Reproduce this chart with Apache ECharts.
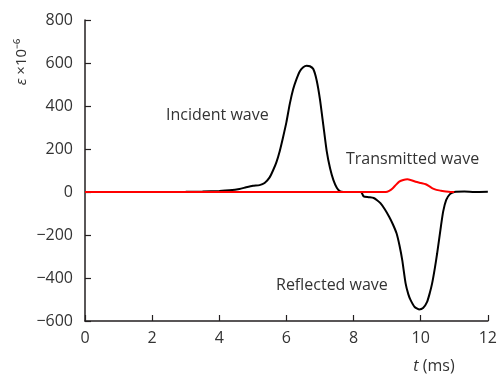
<!DOCTYPE html>
<html>
<head>
<meta charset="utf-8">
<script src="https://cdn.jsdelivr.net/npm/echarts@6/dist/echarts.min.js"></script>
<style>
  html, body { margin: 0; padding: 0; background: #fff; }
  #divChart { width: 500px; height: 376px; }
</style>
</head>
<body>
<div id="divChart"></div>
<script>
// black curve: incident + reflected wave (t in ms, strain x1e-6)
var blackTime = [0, 1, 2, 3, 3.5, 4, 4.3, 4.6, 4.8, 5.0, 5.2, 5.35, 5.5, 5.6, 5.7, 5.8, 5.9, 6.0, 6.1, 6.2, 6.3, 6.4, 6.5, 6.6, 6.7, 6.8, 6.9, 7.0, 7.1, 7.2, 7.3, 7.4, 7.5, 7.6, 7.7,
    8.0, 8.22, 8.3, 8.45, 8.6, 8.7, 8.8, 8.93, 9.06, 9.17, 9.28, 9.37, 9.45, 9.55, 9.63, 9.7, 9.82, 9.95, 10.07, 10.19, 10.27, 10.34, 10.42, 10.49, 10.6, 10.67, 10.76, 10.87, 11.0, 11.3, 11.6, 12];
var blackStrain = [0, 0, 0, 1, 2, 5, 8, 14, 22, 29, 32, 42, 68, 100, 138, 190, 255, 325, 410, 478, 525, 562, 580, 587, 585, 572, 520, 430, 310, 190, 110, 55, 20, 3, 0,
    0, 0, -20, -24, -28, -38, -52, -80, -115, -150, -192, -250, -317, -425, -475, -503, -535, -546, -540, -511, -470, -425, -355, -285, -162, -90, -37, -10, 0, 2, 0, 1];
// red curve: transmitted wave
var redTime = [0, 2, 4, 6, 8, 8.96, 9.06, 9.16, 9.26, 9.36, 9.48, 9.6, 9.72, 9.85, 10.0, 10.15, 10.25, 10.35, 10.47, 10.6, 10.75, 10.89, 11.0];
var redStrain = [0, 0, 0, 0, 0, 0, 5, 16, 33, 48, 56, 59, 55, 48, 42, 36, 27, 17, 10, 6, 2, 0, 0];

var xTicks = [0, 2, 4, 6, 8, 10, 12];
var yTicks = [-600, -400, -200, 0, 200, 400, 600, 800];

var myChart;

function pairs(t, v) {
    var out = [];
    for (var i = 0; i < t.length; i++) {
        out.push([t[i], v[i]]);
    }
    return out;
}

function initChart() {
    myChart = echarts.init(document.getElementById('divChart'));
    var font = 'Open Sans';
    var option = {
        animation: false,
        textStyle: { fontFamily: font },
        grid: { left: 85, top: 20, right: 11, bottom: 55 },
        xAxis: {
            type: 'value',
            min: xTicks[0],
            max: xTicks[xTicks.length - 1],
            interval: 2,
            axisLine: { onZero: false, lineStyle: { color: '#231f20', width: 1.5 } },
            axisTick: { inside: true, length: 6, lineStyle: { color: '#231f20', width: 1.2 } },
            axisLabel: { color: '#333', fontSize: 16, margin: 9, fontFamily: font },
            splitLine: { show: false }
        },
        yAxis: {
            type: 'value',
            min: yTicks[0],
            max: yTicks[yTicks.length - 1],
            interval: 200,
            axisLine: { show: true, lineStyle: { color: '#231f20', width: 1.5 } },
            axisTick: { show: true, inside: true, length: 6, lineStyle: { color: '#231f20', width: 1.2 } },
            axisLabel: {
                color: '#333', fontSize: 16, margin: 12, fontFamily: font,
                formatter: function (v) { return v < 0 ? '\u2212' + (-v) : '' + v; }
            },
            splitLine: { show: false }
        },
        series: [
            {
                name: 'Incident / Reflected',
                type: 'line',
                data: pairs(blackTime, blackStrain),
                smooth: 0.2,
                showSymbol: false,
                lineStyle: { color: '#000', width: 2 },
                z: 2
            },
            {
                name: 'Transmitted',
                type: 'line',
                data: pairs(redTime, redStrain),
                smooth: 0.2,
                showSymbol: false,
                lineStyle: { color: '#ff0000', width: 2 },
                z: 3
            }
        ],
        graphic: [
            {
                type: 'text', left: 166, top: 107,
                style: { text: 'Incident wave', fill: '#333', font: '16px "Open Sans"' }
            },
            {
                type: 'text', left: 346, top: 151,
                style: { text: 'Transmitted wave', fill: '#333', font: '16px "Open Sans"' }
            },
            {
                type: 'text', left: 276, top: 277,
                style: { text: 'Reflected wave', fill: '#333', font: '16px "Open Sans"' }
            },
            {
                type: 'text', x: 22, y: 62, rotation: Math.PI / 2,
                style: {
                    text: '{e|\u03b5} \u00d710\u207b\u2076',
                    fill: '#333', font: '15px "Open Sans"',
                    align: 'center', verticalAlign: 'middle',
                    rich: { e: { fontStyle: 'italic', fontSize: 15, fontFamily: font, fill: '#333' } }
                }
            },
            {
                type: 'text', x: 434, y: 366,
                style: {
                    text: '{t|t} (ms)',
                    fill: '#333', font: '16px "Open Sans"',
                    align: 'center', verticalAlign: 'middle',
                    rich: { t: { fontStyle: 'italic', fontSize: 16, fontFamily: font, fill: '#333' } }
                }
            }
        ]
    };
    myChart.setOption(option);
}

initChart();
</script>
</body>
</html>
